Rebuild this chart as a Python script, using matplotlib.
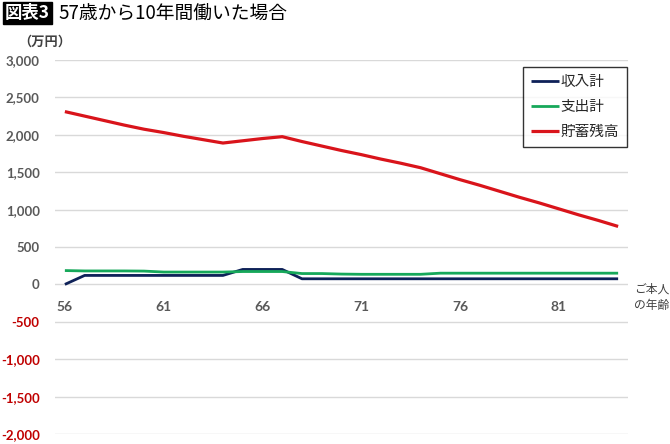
import matplotlib.pyplot as plt
import numpy as np

plt.rcParams['font.family'] = ['Noto Sans CJK JP', 'DejaVu Sans']

# データ（万円）
ages = list(range(56, 85))
income = [0, 120, 120, 120, 120, 120, 120, 120, 120, 200, 200, 200,
          75, 75, 75, 75, 75, 75, 75, 75, 75, 75, 75, 75, 75, 75, 75, 75, 75]
expense = [185, 180, 180, 180, 178, 165, 165, 165, 165, 172, 172, 172,
           145, 145, 138, 135, 135, 135, 135, 150, 150, 150, 150, 150, 150, 150, 150, 150, 150]
savings = [2310, 2250, 2190, 2130, 2075, 2030, 1980, 1935, 1890, 1920, 1950, 1975,
           1910, 1850, 1790, 1735, 1675, 1620, 1560, 1480, 1400, 1325, 1245, 1165,
           1090, 1010, 930, 855, 775]
yticks = [3000, 2500, 2000, 1500, 1000, 500, 0, -500, -1000, -1500, -2000]
xticks = [56, 61, 66, 71, 76, 81]

fig = plt.figure(figsize=(6.7, 4.44), dpi=100)
ax = fig.add_axes([55 / 670, 1 - 434 / 444, (628 - 55) / 670, (434 - 60) / 444])

ax.plot(ages, income, color="#0e2158", linewidth=2.0, label="収入計", solid_capstyle="butt")
ax.plot(ages, expense, color="#16a85a", linewidth=2.0, label="支出計", solid_capstyle="butt")
ax.plot(ages, savings, color="#d9141b", linewidth=2.3, label="貯蓄残高", solid_capstyle="butt")

ax.set_xlim(55.5, 84.5)
ax.set_ylim(-2000, 3000)
ax.set_yticks(yticks)
ax.set_yticklabels([f"{v:,}" for v in yticks])
ax.grid(axis="y", color="#d9d9d9", linewidth=1)
ax.set_axisbelow(True)
for s in ax.spines.values():
    s.set_visible(False)
ax.spines['bottom'].set_position(('data', 0))

ax.set_xticks(xticks)
ax.tick_params(axis="both", length=0)
ax.tick_params(axis="x", pad=12)
ax.tick_params(axis="y", pad=11)
for lbl in ax.get_xticklabels():
    lbl.set_fontfamily("Lato")
    lbl.set_fontweight("bold")
    lbl.set_fontsize(10)
    lbl.set_color("#595959")
for lbl, v in zip(ax.get_yticklabels(), yticks):
    lbl.set_fontfamily("Lato")
    lbl.set_fontweight("bold")
    lbl.set_fontsize(9.5)
    lbl.set_color("#c00000" if v < 0 else "#595959")

leg = ax.legend(loc="upper right", bbox_to_anchor=(0.999, 0.981), frameon=True,
                fancybox=False, edgecolor="black", fontsize=10.5,
                handlelength=1.9, handletextpad=0.15, labelspacing=0.75,
                borderpad=0.55, borderaxespad=0.0)
leg.get_frame().set_linewidth(1.0)
for t in leg.get_texts():
    t.set_color("#262626")

# タイトル
fig.text(5 / 670, 1 - 13 / 444, "図表3", color="white", fontsize=12.5, fontweight="bold",
         va="center", ha="left",
         bbox=dict(boxstyle="square,pad=0.12", facecolor="black", edgecolor="black"))
fig.text(58 / 670, 1 - 13 / 444, "57歳から10年間働いた場合", color="black", fontsize=13.5,
         va="center", ha="left")
fig.text(18 / 670, 1 - 42 / 444, "（万円）", color="#404040", fontsize=9.5, fontweight="bold",
         va="center", ha="left")
fig.text(634 / 670, 1 - 297 / 444, "ご本人\nの年齢", color="#404040", fontsize=8.5,
         va="center", ha="left", linespacing=1.3)

fig.savefig("out.png", dpi=100)
